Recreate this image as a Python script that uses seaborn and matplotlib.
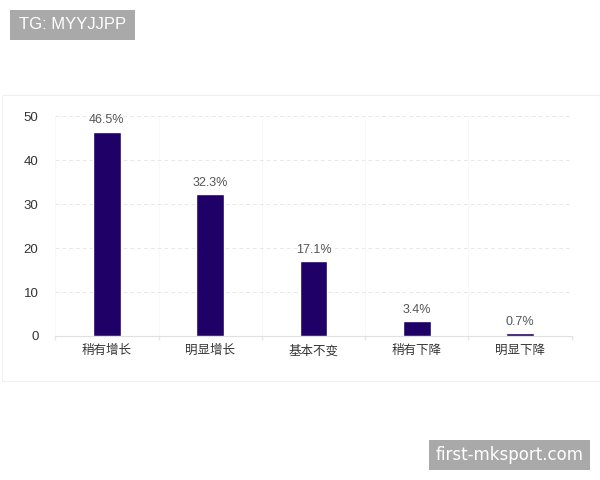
import matplotlib
matplotlib.use('Agg')
import matplotlib.pyplot as plt
import seaborn as sns
import pandas as pd
import numpy as np
from matplotlib.patches import Rectangle

categories = ['稍有增长', '明显增长', '基本不变', '稍有下降', '明显下降']
values = [46.5, 32.3, 17.1, 3.4, 0.7]
value_labels = ['46.5%', '32.3%', '17.1%', '3.4%', '0.7%']
y_ticks = [0, 10, 20, 30, 40, 50]

sns.set_theme(style='white')
plt.rcParams['font.family'] = ['Liberation Sans', 'Noto Sans CJK SC', 'DejaVu Sans']

df = pd.DataFrame({'category': categories, 'value': values})

fig = plt.figure(figsize=(6, 4.8), dpi=100)
ax = fig.add_axes([0.092, 0.3, 0.861, 0.458])

# faint panel frame behind the chart
fig.patches.append(Rectangle((0.003, 0.206), 0.997, 0.596, transform=fig.transFigure,
                             facecolor='none', edgecolor='#f0f0f0', lw=0.8, zorder=0))

sns.barplot(data=df, x='category', y='value', color='#1e0066', width=0.27,
            saturation=1, ax=ax, zorder=3)

for i, (v, lab) in enumerate(zip(values, value_labels)):
    ax.text(i, v + 1.2, lab, ha='center', va='bottom', fontsize=9, color='#555555')

ax.set_xlim(-0.5, 4.5)
ax.set_ylim(0, 50)
ax.set_yticks(y_ticks)
ax.set_xlabel('')
ax.set_ylabel('')
ax.grid(axis='y', color='#e8e8e8', lw=0.7, ls=(0, (4, 3)), zorder=0)
ax.set_xticks(np.arange(-0.5, 5, 1), minor=True)
ax.grid(axis='x', which='minor', color='#f8f8f8', lw=0.7, zorder=0)
ax.tick_params(axis='x', which='major', length=0, labelsize=9, colors='#333333', pad=6)
ax.tick_params(axis='x', which='minor', length=3, color='#e6e6e6', bottom=True)
ax.tick_params(axis='y', length=0, labelsize=9.5, colors='#333333', pad=12)
for t in ax.get_xticklabels():
    t.set_family(['Noto Sans CJK SC', 'DejaVu Sans'])

for s in ['top', 'right', 'left']:
    ax.spines[s].set_visible(False)
ax.spines['bottom'].set_color('#e0e0e0')
ax.spines['bottom'].set_linewidth(0.8)

# watermarks
fig.patches.append(Rectangle((0.0167, 0.9167), 0.2083, 0.0625, transform=fig.transFigure,
                             facecolor='#a9a9a9', edgecolor='none'))
fig.text(0.1208, 0.948, 'TG: MYYJJPP', ha='center', va='center', fontsize=12, color='white')
fig.patches.append(Rectangle((0.715, 0.0208), 0.2683, 0.0625, transform=fig.transFigure,
                             facecolor='#a9a9a9', edgecolor='none'))
fig.text(0.849, 0.052, 'first-mksport.com', ha='center', va='center', fontsize=12,
         color='white', family=['DejaVu Sans'])

fig.savefig('out.png', dpi=100)
